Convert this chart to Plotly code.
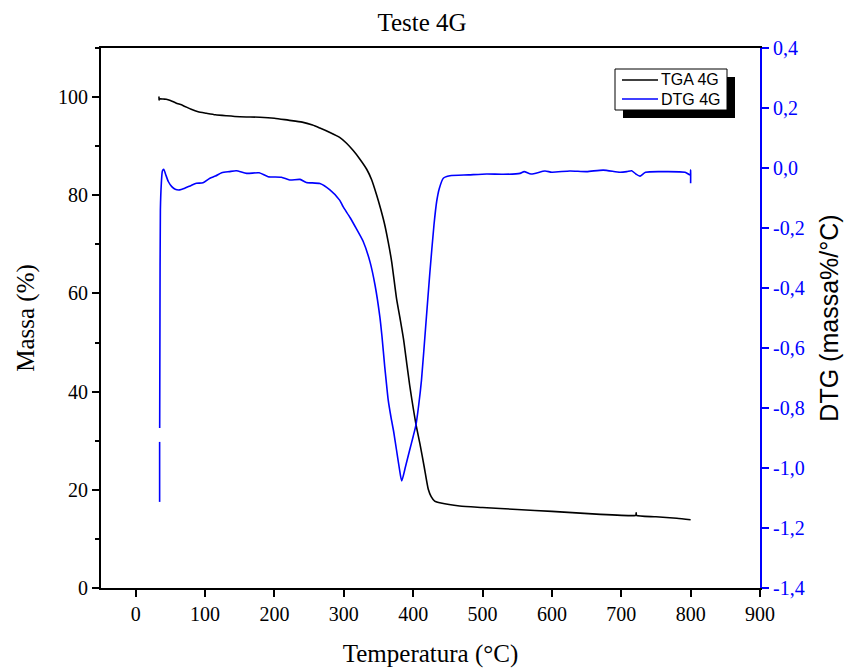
import plotly.graph_objects as go

# ---- data ----
tga_temp = [33.6, 33.6, 34, 40, 44, 50, 58, 68, 80, 90, 102, 115, 131, 150, 179, 200, 220, 240,
            255, 265.5, 280, 294, 304, 313.6, 323, 333, 340, 347, 353, 359, 364, 369, 376, 381,
            386, 391, 395, 398, 404, 410, 416, 421.8, 426, 431, 440, 467, 500, 550, 600, 670,
            718, 721, 721.5, 722, 750, 780, 800]
tga_mass = [100.1, 99.4, 99.65, 99.6, 99.55, 99.3, 98.8, 98.3, 97.5, 97.0, 96.7, 96.4, 96.2, 96.0,
            95.9, 95.7, 95.3, 94.9, 94.3, 93.7, 92.8, 91.8, 90.6, 89.1, 87.4, 85.3, 83.2, 80.2,
            77.3, 74.0, 70.5, 66.5, 59.0, 55.0, 50.8, 45.5, 41.3, 38.5, 33.4, 29.2, 24.6, 20.1,
            18.6, 17.7, 17.3, 16.7, 16.4, 16.0, 15.6, 15.0, 14.75, 14.8, 15.3, 14.8, 14.5, 14.2, 13.9]

dtg_temp = [34.5, 34.5, None, 34.6, 35.0, 35.6, 37, 38.5, 40.4, 43, 47, 52, 57, 63.5, 70, 80, 87.6,
            97, 107, 115, 124, 135, 145, 160, 178, 191, 210, 222, 237, 246, 265.5, 280, 294, 299,
            309, 318.5, 328, 337.7, 345, 352, 355, 359, 361, 364, 368, 372, 376, 380, 383.5, 389,
            395, 400, 404, 408, 412, 418, 424, 430, 434, 437.7, 443.5, 453, 480, 506, 530, 554,
            560, 570, 590, 600, 626, 650, 674, 698, 708, 715, 721, 727, 735, 760, 792, 799.4,
            800, 800]
dtg_rate = [-1.113, -0.913, None, -0.867, -0.5, -0.14, -0.05, -0.01, -0.004, -0.02, -0.045, -0.062,
            -0.071, -0.073, -0.068, -0.058, -0.051, -0.049, -0.034, -0.027, -0.016, -0.012,
            -0.009, -0.018, -0.016, -0.029, -0.031, -0.04, -0.038, -0.048, -0.052, -0.073,
            -0.107, -0.129, -0.165, -0.204, -0.245, -0.312, -0.39, -0.496, -0.56, -0.662,
            -0.707, -0.773, -0.83, -0.88, -0.94, -1.0, -1.043, -0.995, -0.94, -0.895, -0.857,
            -0.79, -0.707, -0.53, -0.351, -0.19, -0.11, -0.068, -0.034, -0.026, -0.023, -0.02,
            -0.021, -0.018, -0.012, -0.02, -0.01, -0.014, -0.01, -0.012, -0.007, -0.014, -0.012,
            -0.009, -0.02, -0.027, -0.014, -0.012, -0.014, -0.023, -0.007, -0.051]

series_names = ["TGA 4G", "DTG 4G"]
x_ticks = [0, 100, 200, 300, 400, 500, 600, 700, 800, 900]
y_ticks = [0, 20, 40, 60, 80, 100]
y2_ticks = [-1.4, -1.2, -1.0, -0.8, -0.6, -0.4, -0.2, 0.0, 0.2, 0.4]
y2_labels = ["-1,4", "-1,2", "-1,0", "-0,8", "-0,6", "-0,4", "-0,2", "0,0", "0,2", "0,4"]

SERIF = "Liberation Serif"
SANS = "Liberation Sans"
BLUE = "#0000FF"

# plot area in pixels (for the hand-drawn legend box)
L, R, T, B = 101, 760, 48, 588
def px(x):
    return (x - L) / (R - L)
def py(y):
    return (B - y) / (B - T)

fig = go.Figure()
fig.add_trace(go.Scatter(x=tga_temp, y=tga_mass, mode="lines", name=series_names[0],
                         line=dict(color="black", width=1.6, shape="spline", smoothing=0.6)))
fig.add_trace(go.Scatter(x=dtg_temp, y=dtg_rate, mode="lines", name=series_names[1], yaxis="y2",
                         connectgaps=False,
                         line=dict(color=BLUE, width=1.6, shape="spline", smoothing=0.6)))

shapes = [
    # legend shadow and box
    dict(type="rect", xref="paper", yref="paper", x0=px(623), x1=px(735), y0=py(118), y1=py(77),
         fillcolor="black", line=dict(width=0), layer="above"),
    dict(type="rect", xref="paper", yref="paper", x0=px(615), x1=px(727), y0=py(110), y1=py(69),
         fillcolor="white", line=dict(color="black", width=1), layer="above"),
    dict(type="line", xref="paper", yref="paper", x0=px(622), x1=px(658), y0=py(80), y1=py(80),
         line=dict(color="black", width=1.6), layer="above"),
    dict(type="line", xref="paper", yref="paper", x0=px(622), x1=px(658), y0=py(99), y1=py(99),
         line=dict(color=BLUE, width=1.6), layer="above"),
]
annotations = [
    dict(text=series_names[0], xref="paper", yref="paper", x=px(659), y=py(80),
         xanchor="left", yanchor="middle", showarrow=False,
         font=dict(family=SANS, size=16, color="black")),
    dict(text=series_names[1], xref="paper", yref="paper", x=px(659), y=py(99),
         xanchor="left", yanchor="middle", showarrow=False,
         font=dict(family=SANS, size=16, color="black")),
]

fig.update_layout(
    width=844, height=668,
    margin=dict(l=L, r=844 - R, t=T, b=668 - B, autoexpand=False),
    paper_bgcolor="white", plot_bgcolor="white",
    showlegend=False,
    title=dict(text="Teste 4G", x=0.5, xanchor="center", y=1 - 22 / 668, yanchor="middle",
               yref="container", automargin=False,
               font=dict(family=SERIF, size=25, color="black")),
    xaxis=dict(range=[-50, 900], tickvals=x_ticks, showgrid=False, zeroline=False,
               showline=True, linecolor="black", linewidth=2, mirror=True, automargin=False,
               ticks="outside", ticklen=7, tickwidth=2, tickcolor="black",
               tickfont=dict(family=SERIF, size=20, color="black"),
               title=dict(text="Temperatura (°C)", standoff=20,
                          font=dict(family=SERIF, size=25, color="black"))),
    yaxis=dict(range=[0, 110], tickvals=y_ticks, showgrid=False, zeroline=False,
               showline=True, linecolor="black", linewidth=2, automargin=False,
               ticks="outside", ticklen=7, tickwidth=2, tickcolor="black",
               minor=dict(dtick=10, tick0=0, ticks="outside", ticklen=4, tickwidth=2,
                          tickcolor="black", showgrid=False),
               tickfont=dict(family=SERIF, size=20, color="black"),
               title=dict(text="Massa (%)", standoff=16,
                          font=dict(family=SERIF, size=25, color="black"))),
    yaxis2=dict(range=[-1.4, 0.4], tickvals=y2_ticks, ticktext=y2_labels, overlaying="y",
                side="right", showgrid=False, zeroline=False, automargin=False,
                showline=True, linecolor=BLUE, linewidth=2,
                ticks="outside", ticklen=7, tickwidth=2, tickcolor=BLUE,
                tickfont=dict(family=SERIF, size=20, color=BLUE),
                title=dict(text="DTG (massa%/°C)", standoff=17,
                           font=dict(family=SANS, size=25, color="black"))),
    shapes=shapes,
    annotations=annotations,
)

fig.write_html("out.html")
